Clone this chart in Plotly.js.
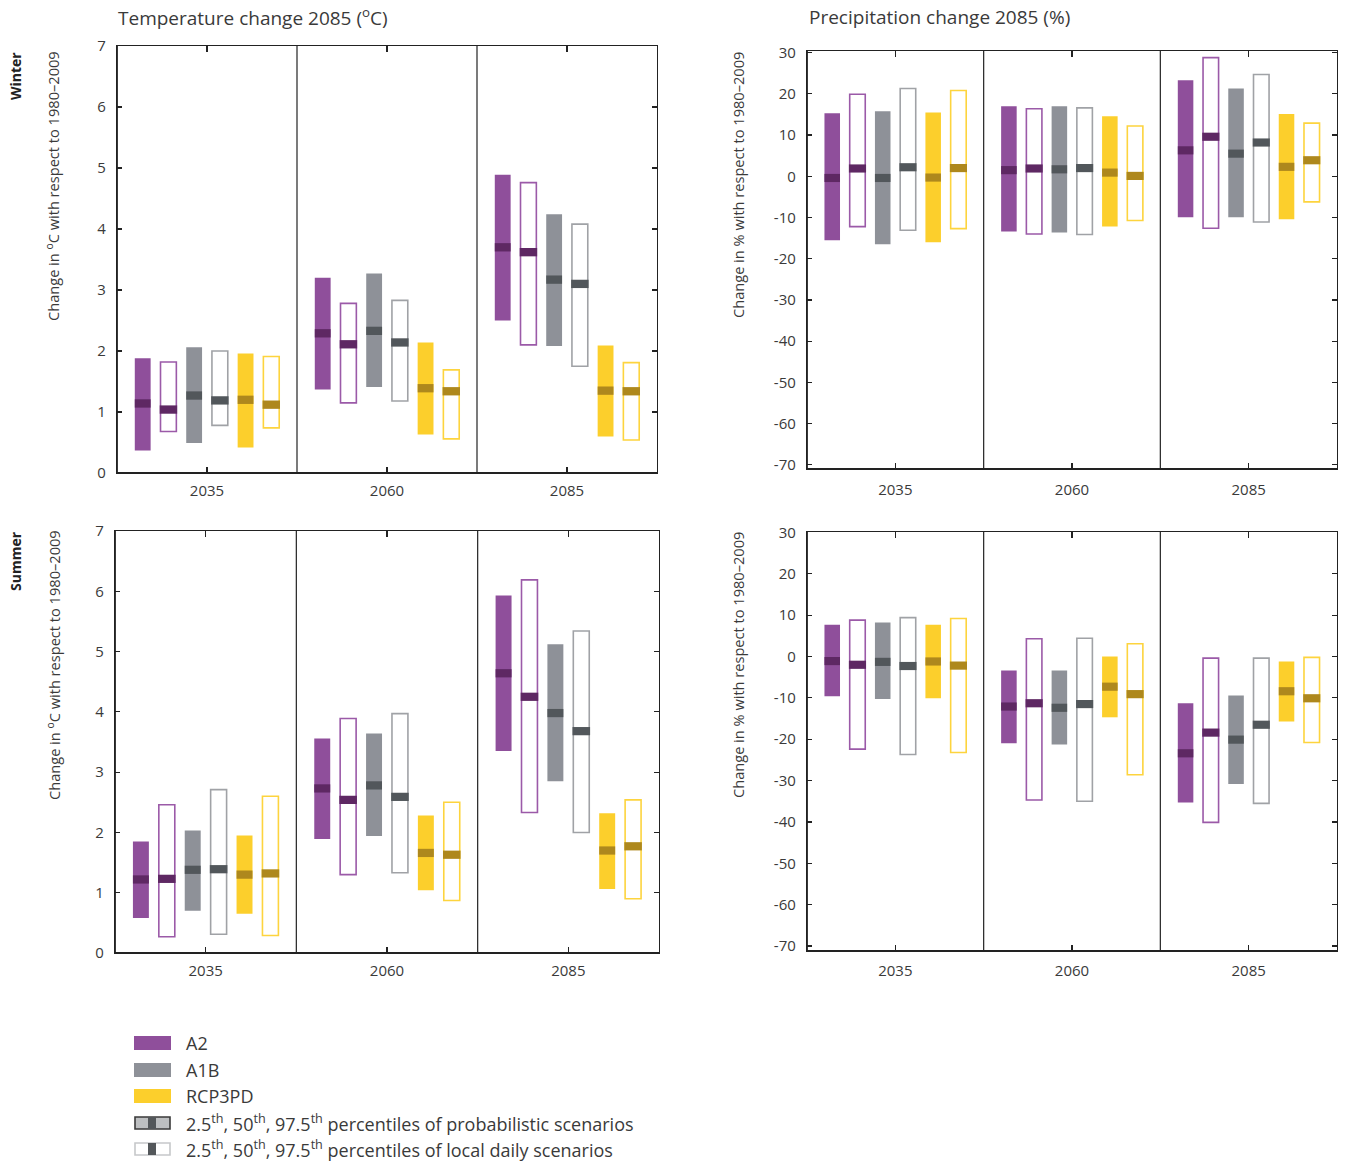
<!DOCTYPE html>
<html>
<head>
<meta charset="utf-8">
<script src="https://cdn.plot.ly/plotly-3.0.1.min.js"></script>
<style>html,body{margin:0;padding:0;background:#fff;}#chart{width:1352px;height:1165px;}</style>
</head>
<body>
<div id="chart"></div>
<script>
// ---------------- DATA ----------------
const periods = ['2035', '2060', '2085'];
const scenarioNames = ['A2', 'A1B', 'RCP3PD'];
const tempTicks = [0, 1, 2, 3, 4, 5, 6, 7];
const tempTickText = ['0', '1', '2', '3', '4', '5', '6', '7'];
const precTicks = [30, 20, 10, 0, -10, -20, -30, -40, -50, -60, -70];
const precTickText = ['30', '20', '10', '0', '-10', '-20', '-30', '-40', '-50', '-60', '-70'];

// order per period: A2 prob, A2 local, A1B prob, A1B local, RCP3PD prob, RCP3PD local
const winterTempLow  = [0.37, 0.68, 0.49, 0.78, 0.42, 0.74,  1.37, 1.15, 1.41, 1.18, 0.63, 0.56,  2.50, 2.10, 2.08, 1.75, 0.60, 0.54];
const winterTempMid  = [1.14, 1.04, 1.27, 1.19, 1.20, 1.12,  2.29, 2.11, 2.33, 2.14, 1.39, 1.34,  3.70, 3.62, 3.17, 3.10, 1.35, 1.34];
const winterTempHigh = [1.88, 1.82, 2.06, 2.00, 1.96, 1.91,  3.20, 2.78, 3.27, 2.83, 2.14, 1.69,  4.89, 4.76, 4.24, 4.08, 2.09, 1.81];

const winterPrecLow  = [-15.5, -12.2, -16.5, -13.1, -16.0, -12.7,  -13.4, -14.0, -13.6, -14.1, -12.2, -10.7,  -9.9, -12.6, -9.9, -11.1, -10.4, -6.2];
const winterPrecMid  = [-0.4, 1.9, -0.4, 2.2, -0.3, 2.0,  1.5, 1.9, 1.7, 2.0, 0.9, 0.1,  6.3, 9.6, 5.5, 8.2, 2.3, 3.9];
const winterPrecHigh = [15.3, 19.9, 15.8, 21.3, 15.5, 20.8,  17.0, 16.4, 17.0, 16.6, 14.6, 12.2,  23.3, 28.8, 21.3, 24.7, 15.1, 12.9];

const summerTempLow  = [0.58, 0.27, 0.70, 0.31, 0.65, 0.29,  1.89, 1.30, 1.94, 1.33, 1.04, 0.87,  3.35, 2.33, 2.85, 2.00, 1.06, 0.90];
const summerTempMid  = [1.22, 1.23, 1.38, 1.39, 1.30, 1.32,  2.73, 2.54, 2.78, 2.59, 1.66, 1.63,  4.64, 4.25, 3.98, 3.68, 1.70, 1.77];
const summerTempHigh = [1.85, 2.46, 2.03, 2.71, 1.95, 2.60,  3.56, 3.89, 3.64, 3.97, 2.28, 2.50,  5.93, 6.19, 5.12, 5.34, 2.32, 2.54];

const summerPrecLow  = [-9.6, -22.4, -10.3, -23.7, -10.1, -23.2,  -21.0, -34.7, -21.3, -35.0, -14.7, -28.6,  -35.3, -40.1, -30.8, -35.5, -15.7, -20.8];
const summerPrecMid  = [-1.1, -2.0, -1.3, -2.3, -1.2, -2.2,  -12.1, -11.3, -12.4, -11.5, -7.3, -9.1,  -23.4, -18.4, -20.1, -16.5, -8.4, -10.1];
const summerPrecHigh = [7.7, 8.8, 8.2, 9.4, 7.7, 9.2,  -3.4, 4.3, -3.4, 4.4, 0.0, 3.1,  -11.3, -0.4, -9.4, -0.4, -1.2, -0.2];

// ---------------- STYLE ----------------
const W = 1352, H = 1165;
const px = x => x / W;
const py = y => 1 - y / H;
const FONT = 'Open Sans, Noto Sans, sans-serif';
const TXT = '#3a3a3a';
const fillCol = ['#8f4f9b', '#8e9198', '#fccf2c'];
const lineCol = ['#9b5aa8', '#a0a2a6', '#fdd43e'];
const medCol  = ['#5e2863', '#52575b', '#ae881d'];
const BARW = 0.088;

const panels = [
  {ax: '', low: winterTempLow, mid: winterTempMid, high: winterTempHigh, range: [0, 7], tv: tempTicks, tt: tempTickText,
   x: [117, 657], y: [46, 473], xso: 4},
  {ax: '2', low: winterPrecLow, mid: winterPrecMid, high: winterPrecHigh, range: [-71, 30.4], tv: precTicks, tt: precTickText,
   x: [807, 1337], y: [51, 469], xso: 7},
  {ax: '3', low: summerTempLow, mid: summerTempMid, high: summerTempHigh, range: [0, 7], tv: tempTicks, tt: tempTickText,
   x: [115, 659], y: [531, 953], xso: 4},
  {ax: '4', low: summerPrecLow, mid: summerPrecMid, high: summerPrecHigh, range: [-71.2, 30.1], tv: precTicks, tt: precTickText,
   x: [807, 1337], y: [532, 951], xso: 6}
];

const traces = [];
const layout = {
  width: W, height: H,
  margin: {l: 0, r: 0, t: 0, b: 0},
  paper_bgcolor: '#fff', plot_bgcolor: '#fff',
  showlegend: false,
  barmode: 'overlay',
  font: {family: FONT, color: TXT},
  shapes: [], annotations: []
};

panels.forEach(p => {
  const xa = 'x' + p.ax, ya = 'y' + p.ax;
  const span = p.range[1] - p.range[0];
  const medH = span * 0.0195;
  for (let s = 0; s < 3; s++) {
    for (let t = 0; t < 2; t++) {
      const k = s * 2 + t;
      const xs = [], base = [], hgt = [], mb = [], mh = [];
      for (let g = 0; g < periods.length; g++) {
        const i = g * 6 + k;
        xs.push(g + (k + 1) / 7);
        base.push(p.low[i]);
        hgt.push(p.high[i] - p.low[i]);
        mb.push(p.mid[i] - medH / 2);
        mh.push(medH);
      }
      traces.push({
        type: 'bar', xaxis: xa, yaxis: ya, x: xs, y: hgt, base: base, width: BARW,
        name: scenarioNames[s] + (t === 0 ? ' probabilistic' : ' local daily'),
        marker: t === 0 ? {color: fillCol[s], line: {width: 0}} : {color: '#ffffff', line: {color: lineCol[s], width: 1.6}},
        hoverinfo: 'skip'
      });
      traces.push({
        type: 'bar', xaxis: xa, yaxis: ya, x: xs, y: mh, base: mb, width: t === 0 ? BARW : BARW + 0.009,
        marker: {color: medCol[s], line: {width: 0}}, hoverinfo: 'skip'
      });
    }
  }
  layout['xaxis' + p.ax] = {
    domain: [px(p.x[0]), px(p.x[1])], anchor: ya, range: [0, 3],
    tickvals: [0.5, 1.5, 2.5], ticktext: periods, ticks: 'inside', ticklen: 6, tickwidth: 1.2, tickcolor: '#222',
    showline: true, linecolor: '#222', linewidth: 1.2, mirror: 'ticks', showgrid: false, zeroline: false,
    ticklabelstandoff: p.xso,
    tickfont: {size: 15, color: TXT, family: FONT}, fixedrange: true
  };
  layout['yaxis' + p.ax] = {
    domain: [py(p.y[1]), py(p.y[0])], anchor: xa, range: p.range,
    tickvals: p.tv, ticktext: p.tt, ticks: 'inside', ticklen: 5, tickwidth: 1.2, tickcolor: '#222',
    showline: true, linecolor: '#222', linewidth: 1.2, mirror: 'ticks', showgrid: false, zeroline: false,
    ticklabelstandoff: 7,
    tickfont: {size: 15, color: TXT, family: FONT}, fixedrange: true
  };
  // separators between periods
  [1, 2].forEach(v => layout.shapes.push({type: 'line', xref: xa, yref: ya + ' domain', x0: v, x1: v, y0: 0, y1: 1,
    line: {color: '#222', width: 1.2}}));
  // thicker bottom and left axis lines
  layout.shapes.push({type: 'line', xref: xa + ' domain', yref: ya + ' domain', x0: 0, x1: 1, y0: 0, y1: 0, line: {color: '#222', width: 2.2}});
  layout.shapes.push({type: 'line', xref: xa + ' domain', yref: ya + ' domain', x0: 0, x1: 0, y0: 0, y1: 1, line: {color: '#222', width: 1.8}});
});

// titles
layout.annotations.push({xref: 'paper', yref: 'paper', x: px(116), y: py(17), xanchor: 'left', yanchor: 'middle', showarrow: false,
  text: 'Temperature change 2085 (<sup>o</sup>C)', font: {size: 19, color: TXT, family: FONT}});
layout.annotations.push({xref: 'paper', yref: 'paper', x: px(807), y: py(17), xanchor: 'left', yanchor: 'middle', showarrow: false,
  text: 'Precipitation change 2085 (%)', font: {size: 19, color: TXT, family: FONT}});
// row labels
layout.annotations.push({xref: 'paper', yref: 'paper', x: px(15), y: py(76), xanchor: 'center', yanchor: 'middle', showarrow: false,
  textangle: -90, text: '<b>Winter</b>', font: {size: 14, color: '#222', family: FONT}});
layout.annotations.push({xref: 'paper', yref: 'paper', x: px(15), y: py(561), xanchor: 'center', yanchor: 'middle', showarrow: false,
  textangle: -90, text: '<b>Summer</b>', font: {size: 14, color: '#222', family: FONT}});
// y-axis titles
const yTitles = [
  {x: 53, y: 186, t: 'Change in <sup>o</sup>C with respect to 1980\u20132009'},
  {x: 738, y: 185, t: 'Change in % with respect to 1980\u20132009'},
  {x: 53, y: 665, t: 'Change in <sup>o</sup>C with respect to 1980\u20132009'},
  {x: 738, y: 665, t: 'Change in % with respect to 1980\u20132009'}
];
yTitles.forEach(a => layout.annotations.push({xref: 'paper', yref: 'paper', x: px(a.x), y: py(a.y), xanchor: 'center', yanchor: 'middle',
  showarrow: false, textangle: -90, text: a.t, font: {size: 14.6, color: TXT, family: FONT}}));

// custom legend
const legendRows = [
  {y: 1043, label: 'A2', kind: 'fill', c: fillCol[0]},
  {y: 1070, label: 'A1B', kind: 'fill', c: fillCol[1]},
  {y: 1096, label: 'RCP3PD', kind: 'fill', c: fillCol[2]},
  {y: 1123, label: '2.5<sup>th</sup>, 50<sup>th</sup>, 97.5<sup>th</sup> percentiles of probabilistic scenarios', kind: 'prob'},
  {y: 1149, label: '2.5<sup>th</sup>, 50<sup>th</sup>, 97.5<sup>th</sup> percentiles of local daily scenarios', kind: 'local'}
];
legendRows.forEach(r => {
  if (r.kind === 'fill') {
    layout.shapes.push({type: 'rect', xref: 'paper', yref: 'paper', x0: px(134), x1: px(171), y0: py(r.y + 7), y1: py(r.y - 7), fillcolor: r.c, line: {width: 0}});
  } else if (r.kind === 'prob') {
    layout.shapes.push({type: 'rect', xref: 'paper', yref: 'paper', x0: px(135), x1: px(170), y0: py(r.y + 6), y1: py(r.y - 6), fillcolor: '#bdbfc1', line: {color: '#3a3a3a', width: 1.6}});
    layout.shapes.push({type: 'rect', xref: 'paper', yref: 'paper', x0: px(148), x1: px(156), y0: py(r.y + 6), y1: py(r.y - 6), fillcolor: '#53575a', line: {width: 0}});
  } else {
    layout.shapes.push({type: 'rect', xref: 'paper', yref: 'paper', x0: px(135), x1: px(170), y0: py(r.y + 6), y1: py(r.y - 6), fillcolor: '#ffffff', line: {color: '#c6c8ca', width: 1.6}});
    layout.shapes.push({type: 'rect', xref: 'paper', yref: 'paper', x0: px(148), x1: px(156), y0: py(r.y + 6), y1: py(r.y - 6), fillcolor: '#53575a', line: {width: 0}});
  }
  layout.annotations.push({xref: 'paper', yref: 'paper', x: px(184), y: py(r.y), xanchor: 'left', yanchor: 'middle', showarrow: false,
    text: r.label, font: {size: 18, color: TXT, family: FONT}});
});

Plotly.newPlot('chart', traces, layout, {staticPlot: true, displayModeBar: false});
</script>
</body>
</html>
